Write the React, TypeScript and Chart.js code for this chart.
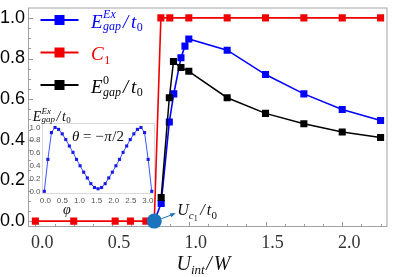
import React, { useEffect, useRef } from 'react';
import { Chart, registerables } from 'chart.js';

Chart.register(...registerables);

// ---- main chart data ----
const c1X = [0, 0.25, 0.52, 0.62, 0.72, 0.775, 0.818, 0.876, 1.0, 1.25, 1.5, 1.75, 2.0, 2.25];
const c1Y = [0, 0, 0, 0, 0, 0, 1, 1, 1, 1, 1, 1, 1, 1];
const exX = [0.775, 0.82, 0.873, 0.902, 0.949, 0.975, 1.0, 1.25, 1.5, 1.75, 2.0, 2.25];
const exY = [0, 0.087, 0.488, 0.626, 0.804, 0.861, 0.896, 0.841, 0.721, 0.626, 0.549, 0.495];
const e0X = [0.82, 0.873, 0.9, 0.949, 1.0, 1.25, 1.5, 1.75, 2.0, 2.25];
const e0Y = [0.116, 0.607, 0.785, 0.756, 0.737, 0.607, 0.53, 0.479, 0.438, 0.411];
const uc1 = 0.775;
const xTickValues = [0, 0.5, 1, 1.5, 2];
const yTickValues = [0, 0.2, 0.4, 0.6, 0.8, 1];

// ---- inset data ----
const insetPhi = [0, 0.105, 0.209, 0.314, 0.419, 0.524, 0.628, 0.733, 0.838, 0.942, 1.047, 1.152, 1.257, 1.361, 1.466, 1.571, 1.676, 1.78, 1.885, 1.99, 2.094, 2.199, 2.304, 2.409, 2.513, 2.618, 2.723, 2.827, 2.932, 3.037, 3.142];
const insetGap = [0, 0.5, 0.92, 1.0, 0.97, 0.9, 0.81, 0.71, 0.61, 0.5, 0.4, 0.3, 0.21, 0.12, 0.06, 0.04, 0.06, 0.12, 0.21, 0.3, 0.4, 0.5, 0.61, 0.71, 0.81, 0.9, 0.97, 1.0, 0.92, 0.5, 0];
const insetXTicks = [0, 0.5, 1, 1.5, 2, 2.5, 3];
const insetYTicks = [0, 0.2, 0.4, 0.6, 0.8, 1];

const BLUE = '#0000ff';
const RED = 'rgb(240,0,0)';
const BLACK = '#000000';
const CIRCLE = '#1b72bd';
const SERIF = '"Liberation Serif", "DejaVu Serif", serif';
const SANS = '"Liberation Sans", Arial, sans-serif';

const zip = (xs: number[], ys: number[]) => xs.map((x, i) => ({ x, y: ys[i] }));

interface Run { t: string; px: number; dy: number; it?: boolean; stack?: boolean; gap?: number }

function drawRuns(ctx: CanvasRenderingContext2D, x0: number, y0: number, runs: Run[], color: string) {
  let prevStart = x0;
  let maxEnd = x0;
  ctx.fillStyle = color;
  ctx.textBaseline = 'alphabetic';
  ctx.textAlign = 'left';
  for (const r of runs) {
    ctx.font = `${r.it === false ? '' : 'italic '}${r.px}px ${SERIF}`;
    const start = r.stack ? prevStart : maxEnd + (r.gap || 0);
    ctx.fillText(r.t, start, y0 + r.dy);
    const end = start + ctx.measureText(r.t).width;
    prevStart = start;
    maxEnd = Math.max(maxEnd, end);
  }
}

const legendItems: { color: string; runs: Run[] }[] = [
  {
    color: BLUE,
    runs: [
      { t: 'E', px: 19, dy: 0 },
      { t: 'Ex', px: 12, dy: -10, gap: 0.5 },
      { t: 'gap', px: 12, dy: 2.5, stack: true },
      { t: '/', px: 19, dy: 0, gap: 2 },
      { t: 't', px: 19, dy: 0, gap: 2.5 },
      { t: '0', px: 12, dy: 3.5, it: false, gap: 0.5 },
    ],
  },
  {
    color: RED,
    runs: [
      { t: 'C', px: 19, dy: 0 },
      { t: '1', px: 12, dy: 3.5, it: false, gap: 0.5 },
    ],
  },
  {
    color: BLACK,
    runs: [
      { t: 'E', px: 19, dy: 0 },
      { t: '0', px: 12, dy: -9, it: false, gap: 0.5 },
      { t: 'gap', px: 12, dy: 3, stack: true },
      { t: '/', px: 19, dy: 0, gap: 2 },
      { t: 't', px: 19, dy: 0, gap: 2.5 },
      { t: '0', px: 12, dy: 3.5, it: false, gap: 0.5 },
    ],
  },
];

const mainDecor = {
  id: 'mainDecor',
  beforeDatasetsDraw(chart: any) {
    const { ctx, chartArea: a, scales } = chart;
    const xs = scales.x;
    const ys = scales.y;
    ctx.save();
    ctx.strokeStyle = '#a3a3a3';
    ctx.lineWidth = 1;
    ctx.strokeRect(a.left + 0.5, a.top + 0.5, a.right - a.left - 1, a.bottom - a.top - 1);
    ctx.strokeStyle = '#9a9a9a';
    ctx.beginPath();
    for (let k = 0; k <= 18; k++) {
      const px = Math.round(xs.getPixelForValue(k * 0.125)) + 0.5;
      const len = k % 4 === 0 ? 5 : 3;
      ctx.moveTo(px, a.bottom);
      ctx.lineTo(px, a.bottom - len);
    }
    for (let k = 0; k <= 20; k++) {
      const py = Math.round(ys.getPixelForValue(k * 0.05)) + 0.5;
      const len = k % 4 === 0 ? 5 : 3;
      ctx.moveTo(a.left, py);
      ctx.lineTo(a.left + len, py);
    }
    ctx.stroke();
    ctx.restore();
  },
  afterDraw(chart: any) {
    const { ctx, scales } = chart;
    const xs = scales.x;
    const ys = scales.y;
    ctx.save();
    // legend
    legendItems.forEach((item, i) => {
      const y = 20 + i * 32.5;
      ctx.strokeStyle = item.color;
      ctx.lineWidth = 2;
      ctx.beginPath();
      ctx.moveTo(40.5, y);
      ctx.lineTo(78.5, y);
      ctx.stroke();
      ctx.fillStyle = item.color;
      ctx.fillRect(54.5, y - 5, 10, 10);
      drawRuns(ctx, 91, y + 7.8, item.runs, item.color);
    });
    // x-axis title
    drawRuns(ctx, 176.5, 270, [
      { t: 'U', px: 20, dy: 0 },
      { t: 'int', px: 13, dy: 4, gap: 0 },
      { t: '/', px: 20, dy: 0, gap: 1.5 },
      { t: 'W', px: 20, dy: 0, gap: 2 },
    ], '#111');
    // U_c1 arrow + label
    const cx = xs.getPixelForValue(uc1);
    const cy = ys.getPixelForValue(0);
    const sx = cx + 7, sy = cy - 2.3, ex = cx + 20, ey = cy - 7.3;
    ctx.strokeStyle = CIRCLE;
    ctx.fillStyle = CIRCLE;
    ctx.lineWidth = 1;
    ctx.beginPath();
    ctx.moveTo(sx, sy);
    ctx.lineTo(ex, ey);
    ctx.stroke();
    const ang = Math.atan2(ey - sy, ex - sx);
    ctx.beginPath();
    ctx.moveTo(ex + 1.5 * Math.cos(ang), ey + 1.5 * Math.sin(ang));
    ctx.lineTo(ex - 4 * Math.cos(ang) - 2.2 * Math.sin(ang), ey - 4 * Math.sin(ang) + 2.2 * Math.cos(ang));
    ctx.lineTo(ex - 4 * Math.cos(ang) + 2.2 * Math.sin(ang), ey - 4 * Math.sin(ang) - 2.2 * Math.cos(ang));
    ctx.closePath();
    ctx.fill();
    drawRuns(ctx, cx + 23, cy - 6, [
      { t: 'U', px: 16, dy: 0 },
      { t: 'c', px: 11, dy: 3.5, gap: 0 },
      { t: '1', px: 8, dy: 6, it: false, gap: 0 },
      { t: '/', px: 16, dy: 0, gap: 2.5 },
      { t: 't', px: 16, dy: 0, gap: 2 },
      { t: '0', px: 11, dy: 3.5, it: false, gap: 0.5 },
    ], '#111');
    ctx.restore();
  },
};

const insetDecor = {
  id: 'insetDecor',
  beforeDatasetsDraw(chart: any) {
    const { ctx, chartArea: a } = chart;
    ctx.save();
    ctx.strokeStyle = '#b5b5b5';
    ctx.lineWidth = 1;
    ctx.setLineDash([1, 1]);
    ctx.strokeRect(a.left + 0.5, a.top + 0.5, a.right - a.left - 1, a.bottom - a.top - 1);
    ctx.restore();
  },
  afterDraw(chart: any) {
    const { ctx } = chart;
    ctx.save();
    drawRuns(ctx, 12.7, 20.7, [
      { t: 'E', px: 14, dy: 0 },
      { t: 'Ex', px: 9, dy: -7, gap: 0.3 },
      { t: 'gap', px: 9, dy: 1.5, stack: true },
      { t: '/', px: 14, dy: 0, gap: 1.5 },
      { t: 't', px: 14, dy: 0, gap: 1.5 },
      { t: '0', px: 9, dy: 2.5, it: false, gap: 0.3 },
    ], '#111');
    drawRuns(ctx, 52, 40.5, [
      { t: 'θ', px: 15, dy: 0 },
      { t: ' = ', px: 15, dy: 0, it: false },
      { t: '−', px: 15, dy: 0, it: false },
      { t: 'π', px: 15, dy: 0, gap: 0.5 },
      { t: '/2', px: 15, dy: 0, it: false, gap: 0.5 },
    ], '#111');
    drawRuns(ctx, 43, 114, [{ t: 'φ', px: 14, dy: 0 }], '#111');
    ctx.restore();
  },
};

function mainConfig(): any {
  return {
    type: 'line',
    data: {
      datasets: [
        {
          label: 'Uc1', data: [{ x: uc1, y: 0 }], showLine: false, pointStyle: 'circle', pointRadius: 7.5,
          backgroundColor: CIRCLE, borderColor: CIRCLE, pointBorderWidth: 0, clip: false, order: 0,
        },
        {
          label: 'E0gap', data: zip(e0X, e0Y), borderColor: BLACK, backgroundColor: BLACK, borderWidth: 1.5,
          pointStyle: 'rect', pointRadius: 5, pointBorderWidth: 0, order: 1,
        },
        {
          label: 'EExgap', data: zip(exX, exY), borderColor: BLUE, backgroundColor: BLUE, borderWidth: 1.6,
          pointStyle: 'rect', pointRadius: 5, pointBorderWidth: 0, order: 2,
        },
        {
          label: 'C1', data: zip(c1X, c1Y), borderColor: RED, backgroundColor: RED, borderWidth: 1.6,
          pointStyle: 'rect', pointRadius: 5, pointBorderWidth: 0, order: 3,
        },
      ],
    },
    options: {
      animation: false,
      responsive: false,
      maintainAspectRatio: false,
      devicePixelRatio: 1,
      events: [],
      layout: { padding: { top: 1, right: 2, left: 0, bottom: 0 } },
      plugins: { legend: { display: false }, tooltip: { enabled: false }, title: { display: false } },
      scales: {
        x: {
          type: 'linear', min: -0.048, max: 2.295,
          grid: { display: false, drawTicks: false },
          border: { display: false },
          afterBuildTicks: (s: any) => { s.ticks = xTickValues.map((v) => ({ value: v })); },
          afterFit: (s: any) => { s.height = 50; s.paddingLeft = 0; s.paddingRight = 0; },
          ticks: {
            font: { family: SERIF, size: 18 }, color: '#333', padding: 5, labelOffset: 7,
            maxRotation: 0, autoSkip: false, callback: (v: any) => Number(v).toFixed(1),
          },
        },
        y: {
          type: 'linear', min: -0.029, max: 1.051,
          grid: { display: false, drawTicks: false },
          border: { display: false },
          afterBuildTicks: (s: any) => { s.ticks = yTickValues.map((v) => ({ value: v })); },
          afterFit: (s: any) => { s.width = 28; s.paddingTop = 0; s.paddingBottom = 0; },
          ticks: {
            font: { family: SANS, size: 18 }, color: '#000', padding: 3,
            autoSkip: false, callback: (v: any) => Number(v).toFixed(1),
          },
        },
      },
    },
    plugins: [mainDecor],
  };
}

function insetConfig(): any {
  return {
    type: 'line',
    data: {
      datasets: [
        {
          label: 'inset', data: zip(insetPhi, insetGap), borderColor: '#3a55ff', backgroundColor: '#1a1ae6',
          borderWidth: 1, pointStyle: 'rect', pointRadius: 2.2, pointBorderWidth: 0,
        },
      ],
    },
    options: {
      animation: false,
      responsive: false,
      maintainAspectRatio: false,
      devicePixelRatio: 1,
      events: [],
      layout: { padding: { top: 23, right: 10, left: 0, bottom: 0 } },
      plugins: { legend: { display: false }, tooltip: { enabled: false } },
      scales: {
        x: {
          type: 'linear', min: -0.067, max: 3.237,
          grid: { display: false, drawTicks: false },
          border: { display: false },
          afterBuildTicks: (s: any) => { s.ticks = insetXTicks.map((v) => ({ value: v })); },
          afterFit: (s: any) => { s.height = 26; s.paddingLeft = 0; s.paddingRight = 0; },
          ticks: {
            font: { family: SANS, size: 8 }, color: '#555', padding: 2, labelOffset: 1,
            maxRotation: 0, autoSkip: false, callback: (v: any) => Number(v).toFixed(1),
          },
        },
        y: {
          type: 'linear', min: -0.042, max: 1.07,
          grid: { display: false, drawTicks: false },
          border: { display: false },
          afterBuildTicks: (s: any) => { s.ticks = insetYTicks.map((v) => ({ value: v })); },
          afterFit: (s: any) => { s.width = 22; s.paddingTop = 0; s.paddingBottom = 0; },
          ticks: {
            font: { family: SANS, size: 8 }, color: '#555', padding: 1.5,
            autoSkip: false, callback: (v: any) => Number(v).toFixed(1),
          },
        },
      },
    },
    plugins: [insetDecor],
  };
}

export default function App() {
  const mainRef = useRef<HTMLCanvasElement>(null);
  const insetRef = useRef<HTMLCanvasElement>(null);
  useEffect(() => {
    const main = new Chart(mainRef.current as HTMLCanvasElement, mainConfig());
    const inset = new Chart(insetRef.current as HTMLCanvasElement, insetConfig());
    return () => {
      main.destroy();
      inset.destroy();
    };
  }, []);
  return (
    <div style={{ position: 'absolute', left: 0, top: 0, width: 395, height: 277, background: '#fff' }}>
      <canvas ref={mainRef} width={395} height={277} style={{ position: 'absolute', left: 0, top: 0, width: 395, height: 277 }} />
      <canvas ref={insetRef} width={145} height={120} style={{ position: 'absolute', left: 20, top: 100, width: 145, height: 120 }} />
    </div>
  );
}
